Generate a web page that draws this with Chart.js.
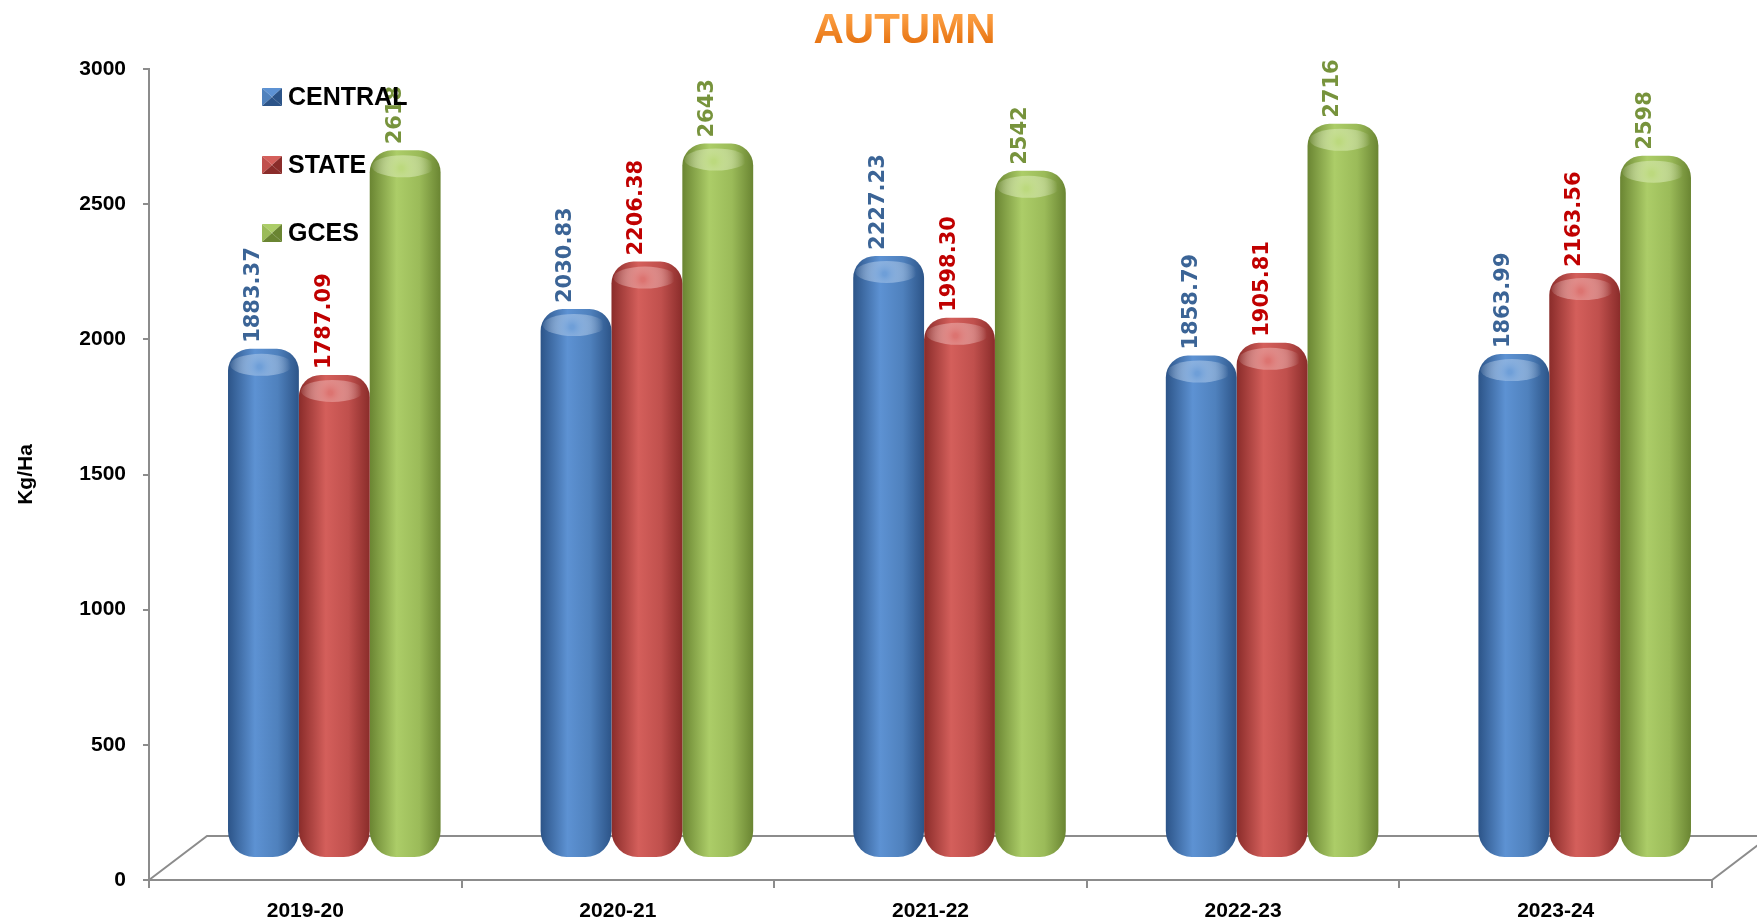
<!DOCTYPE html>
<html>
<head>
<meta charset="utf-8">
<title>AUTUMN</title>
<script src="https://cdn.jsdelivr.net/npm/chart.js@4.4.1/dist/chart.umd.min.js"></script>
<style>
    html, body { margin: 0; padding: 0; background: #fff; }
    #wrap { width: 1757px; height: 923px; }
</style>
</head>
<body>
<div id="wrap"><canvas id="autumnChart"></canvas></div>
<script>
// Data
const years = ['2019-20', '2020-21', '2021-22', '2022-23', '2023-24'];
const centralYield = [1883.37, 2030.83, 2227.23, 1858.79, 1863.99];
const stateYield = [1787.09, 2206.38, 1998.30, 1905.81, 2163.56];
const gcesYield = [2618, 2643, 2542, 2716, 2598];
const yTickValues = [0, 500, 1000, 1500, 2000, 2500, 3000];

const FONT = "'Liberation Sans', Arial, sans-serif";
const CAT_PCT = 0.68;
// fake 3D floor depth
const DEPTH_X = 58, DEPTH_Y = -44;

const seriesLook = [
    { dark: '#2c5488', mid: '#4f81bd', light: '#5d92d3', cap: '#6f9fd8', label: '#3b6496' },
    { dark: '#8a2c2a', mid: '#c0504d', light: '#d45f5b', cap: '#dc7471', label: '#c00000' },
    { dark: '#6a8532', mid: '#9bbb59', light: '#accd68', cap: '#bcd97e', label: '#77933c' }
];

// horizontal shading so the bars look like cylinders
function cylinderFill(look) {
    return (context) => {
        const chart = context.chart;
        const xs = chart.scales.x;
        if (!xs || context.type !== 'data') return look.mid;
        const w = (xs.width / years.length) * CAT_PCT / 3;
        const cx = xs.getPixelForValue(context.dataIndex) + (context.datasetIndex - 1) * w;
        if (!isFinite(cx) || !isFinite(w) || w <= 0) return look.mid;
        const g = chart.ctx.createLinearGradient(cx - w / 2, 0, cx + w / 2, 0);
        g.addColorStop(0, look.dark);
        g.addColorStop(0.38, look.light);
        g.addColorStop(0.7, look.mid);
        g.addColorStop(1, look.dark);
        return g;
    };
}

const depthPlugin = {
    id: 'depth',
    beforeDatasetsDraw(chart) {
        const { ctx, chartArea: a } = chart;
        ctx.save();
        ctx.strokeStyle = '#8c8c8c';
        ctx.lineWidth = 2;
        ctx.beginPath();
        ctx.moveTo(a.left, a.bottom);
        ctx.lineTo(a.left + DEPTH_X, a.bottom + DEPTH_Y);
        ctx.lineTo(a.right + DEPTH_X, a.bottom + DEPTH_Y);
        ctx.lineTo(a.right, a.bottom);
        ctx.stroke();
        ctx.restore();
        // bars stand in the middle of the floor
        ctx.save();
        ctx.translate(DEPTH_X / 2, DEPTH_Y / 2);
    },
    afterDatasetsDraw(chart) {
        const ctx = chart.ctx;
        chart.data.datasets.forEach((ds, di) => {
            const meta = chart.getDatasetMeta(di);
            const look = seriesLook[di];
            meta.data.forEach((bar, i) => {
                // soft highlight on the cylinder top
                const rx = bar.width / 2 - 4;
                const cg = ctx.createRadialGradient(bar.x - 4, bar.y + 18, 2, bar.x - 4, bar.y + 18, rx);
                cg.addColorStop(0, look.cap);
                cg.addColorStop(1, 'rgba(255,255,255,0)');
                ctx.save();
                ctx.fillStyle = cg;
                ctx.beginPath();
                ctx.ellipse(bar.x - 2, bar.y + 16, rx, 11, 0, 0, Math.PI * 2);
                ctx.fill();
                ctx.restore();

                const v = ds.data[i];
                const txt = di < 2 ? v.toFixed(2) : String(v);
                ctx.save();
                ctx.translate(bar.x - 10, bar.y - 6);
                ctx.rotate(-Math.PI / 2);
                ctx.font = "bold 21px 'DejaVu Sans', Verdana, sans-serif";
                ctx.fillStyle = look.label;
                ctx.textAlign = 'left';
                ctx.textBaseline = 'middle';
                ctx.fillText(txt, 0, 0);
                ctx.restore();
            });
        });
        ctx.restore();
    }
};

// title and legend sit inside the plot like in the original
const decorPlugin = {
    id: 'decor',
    afterDraw(chart) {
        const { ctx, chartArea: a } = chart;
        ctx.save();
        const tg = ctx.createLinearGradient(0, 12, 0, 48);
        tg.addColorStop(0, '#ffa54a');
        tg.addColorStop(1, '#e36c09');
        ctx.font = 'bold 42px ' + FONT;
        ctx.textAlign = 'center';
        ctx.textBaseline = 'middle';
        ctx.fillStyle = tg;
        ctx.fillText('AUTUMN', chart.width / 2 + 26, 31);

        chart.data.datasets.forEach((ds, di) => {
            const look = seriesLook[di];
            const mx = a.left + 113, my = a.top + 19 + di * 68, s = 20, h = 18;
            const cx = mx + s / 2, cy = my + h / 2;
            const tri = (pts, col) => {
                ctx.beginPath();
                ctx.moveTo(pts[0], pts[1]);
                ctx.lineTo(pts[2], pts[3]);
                ctx.lineTo(cx, cy);
                ctx.closePath();
                ctx.fillStyle = col;
                ctx.fill();
            };
            tri([mx, my, mx + s, my], look.light);
            tri([mx, my, mx, my + h], look.mid);
            tri([mx + s, my, mx + s, my + h], look.dark);
            tri([mx, my + h, mx + s, my + h], look.dark);
            ctx.fillStyle = '#000';
            ctx.font = 'bold 25px ' + FONT;
            ctx.textAlign = 'left';
            ctx.fillText(ds.label, mx + 26, cy + 1);
        });
        ctx.restore();
    }
};

const ctx = document.getElementById('autumnChart');
new Chart(ctx, {
    type: 'bar',
    data: {
        labels: years,
        datasets: [
            { label: 'CENTRAL', data: centralYield },
            { label: 'STATE', data: stateYield },
            { label: 'GCES', data: gcesYield }
        ].map((d, i) => Object.assign(d, {
            backgroundColor: cylinderFill(seriesLook[i]),
            borderRadius: { topLeft: 22, topRight: 22, bottomLeft: 26, bottomRight: 26 },
            borderSkipped: false,
            categoryPercentage: CAT_PCT,
            barPercentage: 1
        }))
    },
    options: {
        responsive: true,
        maintainAspectRatio: false,
        animation: false,
        layout: { padding: { top: 69, right: 45, left: 0, bottom: 0 } },
        plugins: {
            legend: { display: false },
            title: { display: false },
            tooltip: { enabled: false }
        },
        scales: {
            x: {
                border: { display: true, color: '#8c8c8c', width: 2 },
                grid: { offset: true, drawOnChartArea: false, tickLength: 8, color: '#8c8c8c', lineWidth: 2 },
                ticks: { color: '#000', font: { family: FONT, size: 21, weight: 'bold' }, padding: 11 },
                afterFit(scale) { scale.height = 43; }
            },
            y: {
                min: 0,
                max: 3000,
                afterBuildTicks(scale) { scale.ticks = yTickValues.map(v => ({ value: v })); },
                border: { display: true, color: '#8c8c8c', width: 2 },
                grid: { drawOnChartArea: false, tickLength: 6, color: '#8c8c8c', lineWidth: 2 },
                ticks: {
                    color: '#000',
                    font: { family: FONT, size: 21, weight: 'bold' },
                    padding: 17,
                    callback: (v) => String(v)
                },
                title: {
                    display: true,
                    text: 'Kg/Ha',
                    color: '#000',
                    font: { family: FONT, size: 21, weight: 'bold' },
                    padding: { top: 14, bottom: 0 }
                },
                afterFit(scale) { scale.width = 149; }
            }
        }
    },
    plugins: [depthPlugin, decorPlugin]
});
</script>
</body>
</html>
